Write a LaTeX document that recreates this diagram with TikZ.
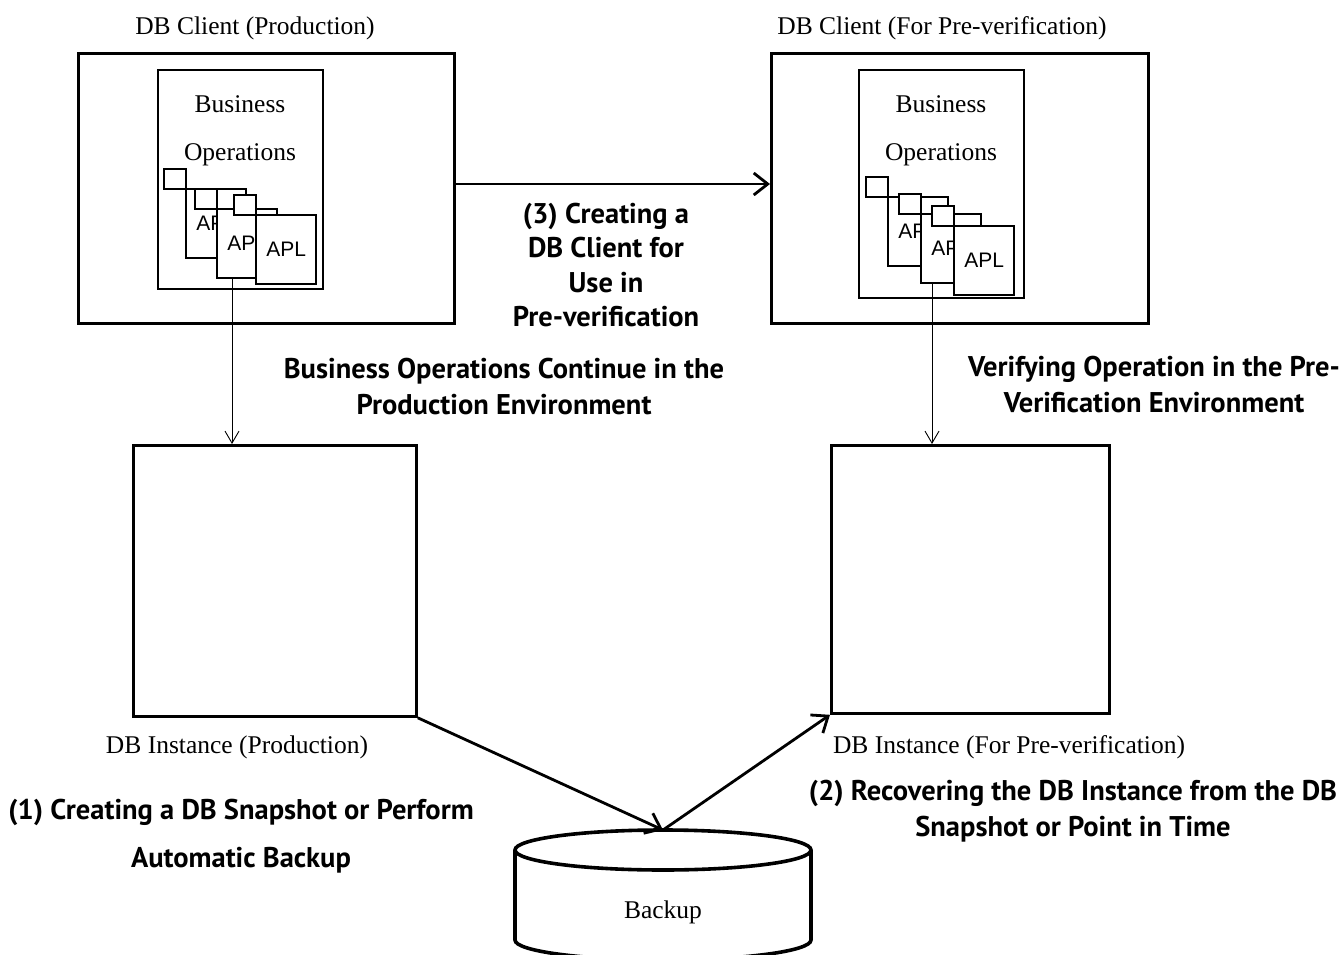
\documentclass[tikz,border=0pt]{standalone}
\usepackage{fontspec}
\setmainfont{Liberation Serif}
\newfontfamily\lblfont{PT Sans}
\newfontfamily\aplfont{Liberation Sans}
\usetikzlibrary{arrows.meta,calc}

% one application icon: small square at (x,y), window body below-right of it
\newcommand\aplicon[3]{%
  \node[apsq] (#1s) at (#2,#3) {};
  \node[apbody] (#1) at ($(#2,#3)+(22,20)$) {APL};}

\begin{document}
\begin{tikzpicture}[x=1pt,y=-1pt,
  frame/.style={draw, line width=2.8pt, inner sep=0pt, anchor=north west},
  inframe/.style={draw, line width=2.4pt, inner sep=0pt, anchor=north west},
  apsq/.style={draw, fill=white, line width=2.3pt, inner sep=0pt,
    minimum width=22pt, minimum height=20pt, anchor=north west},
  apbody/.style={draw, fill=white, line width=2.3pt, inner sep=0pt,
    minimum width=60pt, minimum height=69pt, anchor=north west,
    font=\aplfont\fontsize{21}{22}\selectfont},
  captxt/.style={font=\fontsize{25.5}{48}\selectfont, inner sep=0pt, align=center},
  lbl/.style={font=\lblfont\bfseries\fontsize{28.5}{36}\selectfont, align=center, inner sep=0pt},
  arrthin/.style={line width=0.9pt, -{Straight Barb[length=12pt,width=14pt]}},
  arrthick/.style={line width=2.8pt, -{Straight Barb[length=14pt,width=22pt]}}
]
\useasboundingbox (0,0) rectangle (1342,955);
\clip (0,0) rectangle (1342,955);

% client frames
\node[frame, minimum width=376pt, minimum height=270pt] (cliL) at (77,52) {};
\node[frame, minimum width=377pt, minimum height=270pt] (cliR) at (770,52) {};
\node[inframe, minimum width=165pt, minimum height=219pt] (bizL) at (157,69) {};
\node[inframe, minimum width=165pt, minimum height=228pt] (bizR) at (858,69) {};
\node[captxt] (bizLt) at (240,131) {Business\\Operations};
\node[captxt] (bizRt) at (941,131) {Business\\Operations};

% application icons, production side
\aplicon{pl1}{163}{168}
\aplicon{pl2}{194}{188}
\aplicon{pl3}{233}{194}
% application icons, pre-verification side
\aplicon{pr1}{865}{176}
\aplicon{pr2}{898}{193}
\aplicon{pr3}{931}{205}

% database instances
\node[frame, minimum width=283pt, minimum height=271pt] (dbL) at (132,444) {};
\node[frame, minimum width=278pt, minimum height=268pt] (dbR) at (830,444) {};

% backup cylinder
\coordinate (bktop) at (663,830);
\draw[line width=3.6pt, fill=white] (515,850) -- (515,940)
  arc[start angle=180, end angle=0, x radius=148, y radius=20] -- (811,850);
\draw[line width=3.6pt, fill=white] (663,850) ellipse[x radius=148, y radius=20];
\node[captxt] (bk) at (663,912) {Backup};

% captions
\node[captxt] (tL) at (255,28) {DB Client (Production)};
\node[captxt] (tR) at (942,28) {DB Client (For Pre-verification)};
\node[captxt] (dL) at (237,747) {DB Instance (Production)};
\node[captxt] (dR) at (1009,747) {DB Instance (For Pre-verification)};

% connectors
\coordinate (pl2out) at ($(pl2.south west)+(16,0)$);
\coordinate (pr2out) at ($(pr2.south west)+(12,0)$);
\draw[arrthin] (pl2out) -- (pl2out |- dbL.north);
\draw[arrthin] (pr2out) -- (pr2out |- dbR.north);
\draw[arrthick] (cliL.east |- 0,184) -- (cliR.west |- 0,184);
\draw[arrthick] (dbL.south east) -- (bktop);
\draw[arrthick] (bktop) -- (dbR.south west);

% step labels
\node[lbl, font=\lblfont\bfseries\fontsize{28.5}{34.5}\selectfont] (s3) at (606,265)
  {(3) Creating a\\DB Client for\\Use in\\Pre-verification};
\node[lbl] (cont) at (504,387) {Business Operations Continue in the\\Production Environment};
\node[lbl] (verif) at (1154,385) {Verifying Operation in the Pre-\\Verification Environment};
\node[lbl, font=\lblfont\bfseries\fontsize{28.5}{48}\selectfont] (s1) at (241,836)
  {(1) Creating a DB Snapshot or Perform\\Automatic Backup};
\node[lbl] (s2) at (1073,811) {(2) Recovering the DB Instance from the DB\\Snapshot or Point in Time};
\end{tikzpicture}
\end{document}
